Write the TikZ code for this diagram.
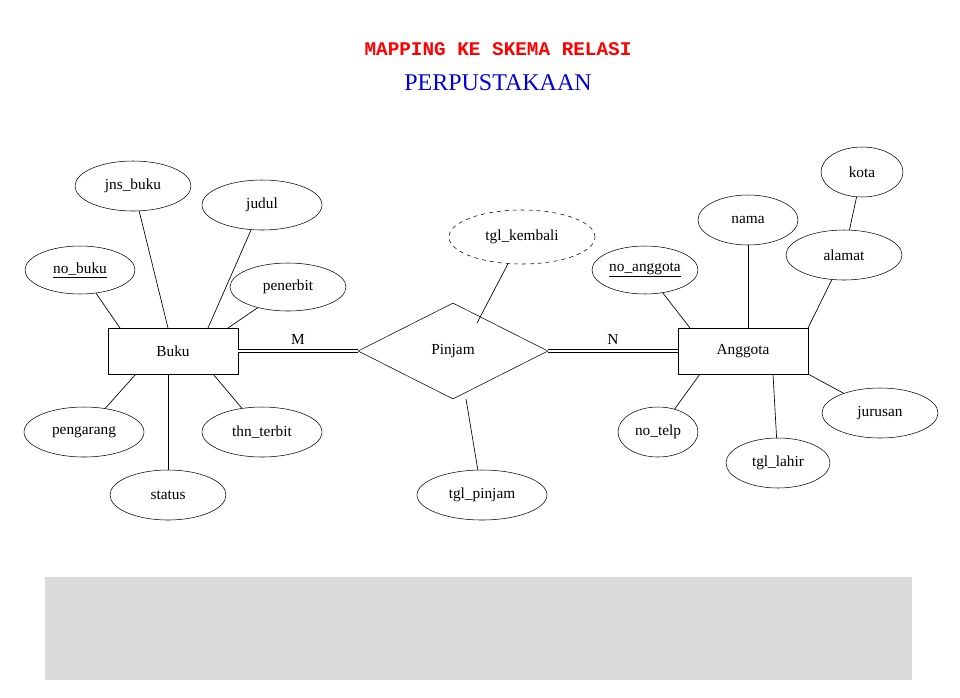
\documentclass[tikz,border=0pt]{standalone}
\usepackage{fontspec}
\setmainfont{Liberation Serif}
\newfontfamily\monob{Liberation Mono}
\usetikzlibrary{shapes.geometric}
\begin{document}
\begin{tikzpicture}[x=0.75pt,y=-0.75pt,
  attr/.style={draw,ellipse,inner sep=0pt,font=\fontsize{11.5}{12}\selectfont},
  ent/.style={draw,rectangle,minimum width=97.5pt,minimum height=34.5pt,inner sep=0pt,font=\fontsize{11.5}{12}\selectfont},
  conn/.style={draw,line width=0.5pt}]
\useasboundingbox (0,0) rectangle (960,697);
\fill[gray!28] (45,577) rectangle (912,680);
\node (t1) at (498,49) {\monob\bfseries\fontsize{14.5}{16}\selectfont\color{red}MAPPING KE SKEMA RELASI};
\node (t2) at (498,83) {\fontsize{18}{19}\selectfont\color{blue!85!black}PERPUSTAKAAN};

\node[ent] (buku) at (173,351) {Buku};
\node[ent] (ang) at (743,351) {Anggota};
\node[draw,diamond,aspect=2,minimum width=142.5pt,minimum height=72pt,inner sep=0pt,font=\fontsize{11.5}{12}\selectfont] (pin) at (453,351) {Pinjam};

\newcommand{\attrnode}[5]{\node[attr,minimum width=#3*1.5pt,minimum height=#4*1.5pt] (#1) at #2 {#5};}
\attrnode{jns}{(133,186)}{58}{25}{jns\_buku}
\attrnode{judul}{(262,205)}{60}{25}{judul}
\attrnode{nob}{(80,270)}{55}{24}{\underline{no\_buku}}
\attrnode{pen}{(288,287)}{58}{24}{penerbit}
\attrnode{peng}{(84,432)}{60}{25}{pengarang}
\attrnode{thn}{(262,432)}{60}{25}{thn\_terbit}
\attrnode{stat}{(168,495)}{58}{25}{status}
\node[attr,dashed,minimum width=109.5pt,minimum height=40.5pt] (tk) at (522,237) {tgl\_kembali};
\attrnode{tp}{(482,495)}{65}{25}{tgl\_pinjam}
\attrnode{kota}{(862,172)}{41}{25}{kota}
\attrnode{nama}{(748,220)}{50}{25}{nama}
\attrnode{alm}{(844,255)}{58}{25}{alamat}
\attrnode{noa}{(645,270)}{53}{24}{\underline{no\_anggota}}
\attrnode{telp}{(658,432)}{40}{25}{no\_telp}
\attrnode{lahir}{(778,463)}{52}{25}{tgl\_lahir}
\attrnode{jur}{(880,413)}{58}{25}{jurusan}

\coordinate (b1) at (168,328); \coordinate (b2) at (208,328);
\coordinate (b3) at (120,328); \coordinate (b4) at (228,328);
\coordinate (b5) at (136,374); \coordinate (b6) at (213,374); \coordinate (b7) at (168,374);
\draw[conn] (jns) -- (b1); \draw[conn] (judul) -- (b2);
\draw[conn] (nob) -- (b3); \draw[conn] (pen) -- (b4);
\draw[conn] (peng) -- (b5); \draw[conn] (thn) -- (b6); \draw[conn] (stat) -- (b7);
\coordinate (p1) at (477,323); \coordinate (p2) at (466,399);
\draw[conn] (tk) -- (p1); \draw[conn] (tp) -- (p2);
\coordinate (a1) at (748,328); \coordinate (a2) at (808,328); \coordinate (a3) at (690,328);
\coordinate (a4) at (700,374); \coordinate (a5) at (773,374); \coordinate (a6) at (808,374);
\draw[conn] (nama) -- (a1); \draw[conn] (alm) -- (a2); \draw[conn] (noa) -- (a3);
\draw[conn] (telp) -- (a4); \draw[conn] (lahir) -- (a5); \draw[conn] (jur) -- (a6);
\draw[conn] (kota) -- (alm);
\draw[double,double distance=1.5pt,line width=0.6pt] (buku.east) -- (pin.west) node[pos=0.5,above=1pt,font=\fontsize{11.5}{12}\selectfont] {M};
\draw[double,double distance=1.5pt,line width=0.6pt] (pin.east) -- (ang.west) node[pos=0.5,above=1pt,font=\fontsize{11.5}{12}\selectfont] {N};
\end{tikzpicture}
\end{document}
